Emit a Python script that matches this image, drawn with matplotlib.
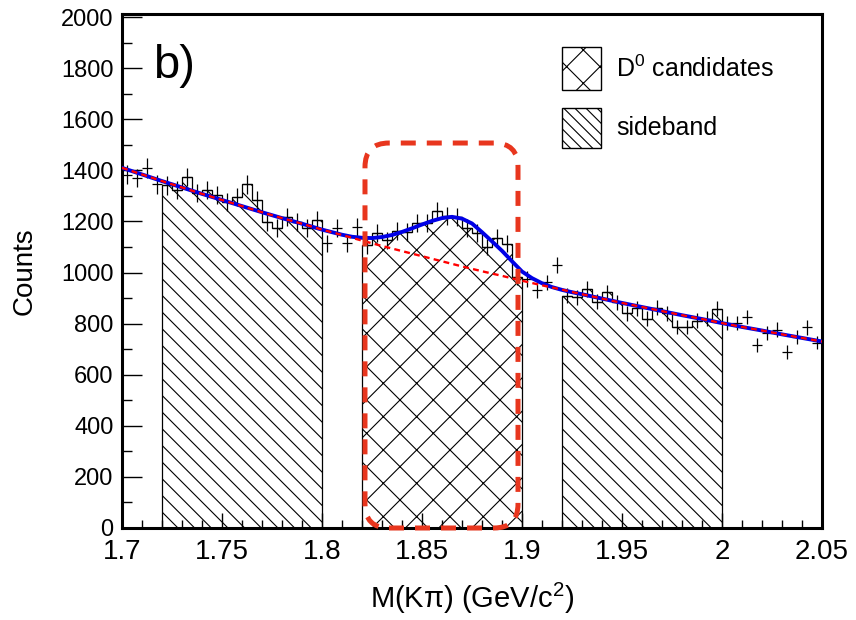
import numpy as np
import matplotlib.pyplot as plt
from matplotlib.patches import FancyBboxPatch, Rectangle
from matplotlib.ticker import MultipleLocator

plt.rcParams['font.family'] = ['Liberation Sans', 'DejaVu Sans']
plt.rcParams['mathtext.fontset'] = 'custom'
plt.rcParams['mathtext.rm'] = 'Liberation Sans'
plt.rcParams['mathtext.it'] = 'Liberation Sans:italic'
plt.rcParams['hatch.linewidth'] = 0.8

# 70 bins of 5 MeV from 1.70 to 2.05
bin_width = 0.005
edges = np.round(1.7 + bin_width * np.arange(71), 4)
counts = np.array([
    1382, 1370, 1409, 1346, 1342, 1323, 1374, 1311, 1323, 1303,
    1276, 1295, 1346, 1284, 1198, 1174, 1217, 1198, 1174, 1205,
    1115, 1174, 1115, 1178, 1107, 1155, 1127, 1162, 1159, 1194,
    1194, 1241, 1221, 1217, 1174, 1155, 1100, 1135, 1112, 982,
    975, 932, 961, 1029, 910, 903, 935, 886, 922, 883,
    840, 861, 820, 863, 840, 787, 787, 812, 820, 858,
    802, 802, 826, 716, 763, 777, 689, 746, 785, 726])

# bin ranges of the selected regions
sb1 = (4, 20)     # 1.72 - 1.80
sig = (24, 40)    # 1.82 - 1.90
sb2 = (44, 60)    # 1.92 - 2.00

bkg_x = [1.70, 1.71, 1.72, 1.73, 1.74, 1.75, 1.76, 1.77, 1.78, 1.79,
         1.80, 1.81, 1.82, 1.83, 1.84, 1.85, 1.86, 1.87, 1.88, 1.89,
         1.90, 1.91, 1.92, 1.93, 1.94, 1.95, 1.96, 1.97, 1.98, 1.99,
         2.00, 2.01, 2.02, 2.03, 2.04, 2.05]
bkg_y = [1410, 1384, 1358, 1333, 1308, 1284, 1260, 1236, 1213, 1191,
         1168, 1147, 1125, 1104, 1084, 1064, 1044, 1024, 1005, 987,
         968, 950, 933, 915, 898, 881, 865, 849, 833, 818,
         802, 787, 773, 758, 744, 730]

# total fit (blue) in the peak region
peak_x = [1.81, 1.815, 1.82, 1.825, 1.83, 1.835, 1.84, 1.845, 1.85, 1.855,
          1.86, 1.865, 1.87, 1.875, 1.88, 1.885, 1.89, 1.895, 1.90, 1.905,
          1.91, 1.915, 1.92, 1.925, 1.93]
peak_y = [1148, 1140, 1136, 1135, 1139, 1147, 1159, 1173, 1188, 1202,
          1213, 1218, 1211, 1192, 1158, 1122, 1085, 1044, 1004, 978,
          958, 943, 932, 923, 915]

bx = np.array(bkg_x)
by = np.array(bkg_y)
tot_x = np.concatenate([bx[bx < 1.81], peak_x, bx[bx > 1.935]])
tot_y = np.concatenate([by[bx < 1.81], peak_y, by[bx > 1.935]])

fig = plt.figure(figsize=(8.56, 6.2), dpi=100)
ax = fig.add_axes([0.1425, 0.1484, 0.8178, 0.8290])

for (a, b), h in [(sb1, '\\\\'), (sb2, '\\\\'), (sig, 'x')]:
    ax.stairs(counts[a:b], edges[a:b + 1], fill=True, facecolor='white',
              edgecolor='black', hatch=h, lw=0.9, zorder=1)

centers = (edges[:-1] + edges[1:]) / 2
ax.errorbar(centers, counts, xerr=bin_width / 2, yerr=np.sqrt(counts),
            fmt='none', ecolor='black', elinewidth=0.9, capsize=0, zorder=3)

ax.plot(tot_x, tot_y, color='#0000e6', lw=2.8, zorder=4)
ax.plot(bkg_x, bkg_y, color='red', lw=1.7, ls=(0, (2.5, 1.8)), zorder=5)

box = FancyBboxPatch((1.8215, 0), 1.898 - 1.8215, 1507,
                     boxstyle='round,pad=0,rounding_size=0.012',
                     mutation_aspect=7828, fill=False, edgecolor='#e8361e',
                     lw=3.6, ls=(0, (3, 2.2)), clip_on=False, zorder=6)
ax.add_patch(box)

ax.set_xlim(1.7, 2.05)
ax.set_ylim(0, 2012)
ax.xaxis.set_major_locator(MultipleLocator(0.05))
ax.xaxis.set_minor_locator(MultipleLocator(0.01))
ax.yaxis.set_major_locator(MultipleLocator(200))
ax.yaxis.set_minor_locator(MultipleLocator(100))
ax.set_xticks([1.7, 1.75, 1.8, 1.85, 1.9, 1.95, 2.0, 2.05])
ax.set_xticklabels(['1.7', '1.75', '1.8', '1.85', '1.9', '1.95', '2', '2.05'])
ax.tick_params(axis='both', which='both', direction='in', width=1)
ax.tick_params(axis='x', which='major', length=11, pad=8, labelsize=20)
ax.tick_params(axis='x', which='minor', length=5.5)
ax.tick_params(axis='y', which='major', length=14.5, pad=6, labelsize=17)
ax.tick_params(axis='y', which='minor', length=7)
for s in ax.spines.values():
    s.set_linewidth(2.2)

ax.set_xlabel('M(K\u03c0) (GeV/c$^{2}$)', fontsize=21, labelpad=11)
ax.set_ylabel('Counts', fontsize=20, labelpad=17)

ax.text(0.045, 0.875, 'b)', transform=ax.transAxes, fontsize=34)

# legend
ax.add_patch(Rectangle((0.6286, 0.852), 0.0557, 0.0838, transform=ax.transAxes,
                       facecolor='white', edgecolor='black', hatch='x', lw=1))
ax.add_patch(Rectangle((0.6286, 0.7393), 0.0557, 0.0778, transform=ax.transAxes,
                       facecolor='white', edgecolor='black', hatch='\\\\\\', lw=1))
ax.text(0.7057, 0.893, 'D$^{0}$ candidates', transform=ax.transAxes,
        fontsize=18, va='center')
ax.text(0.7057, 0.779, 'sideband', transform=ax.transAxes,
        fontsize=18, va='center')

fig.savefig('out.png', dpi=100)
